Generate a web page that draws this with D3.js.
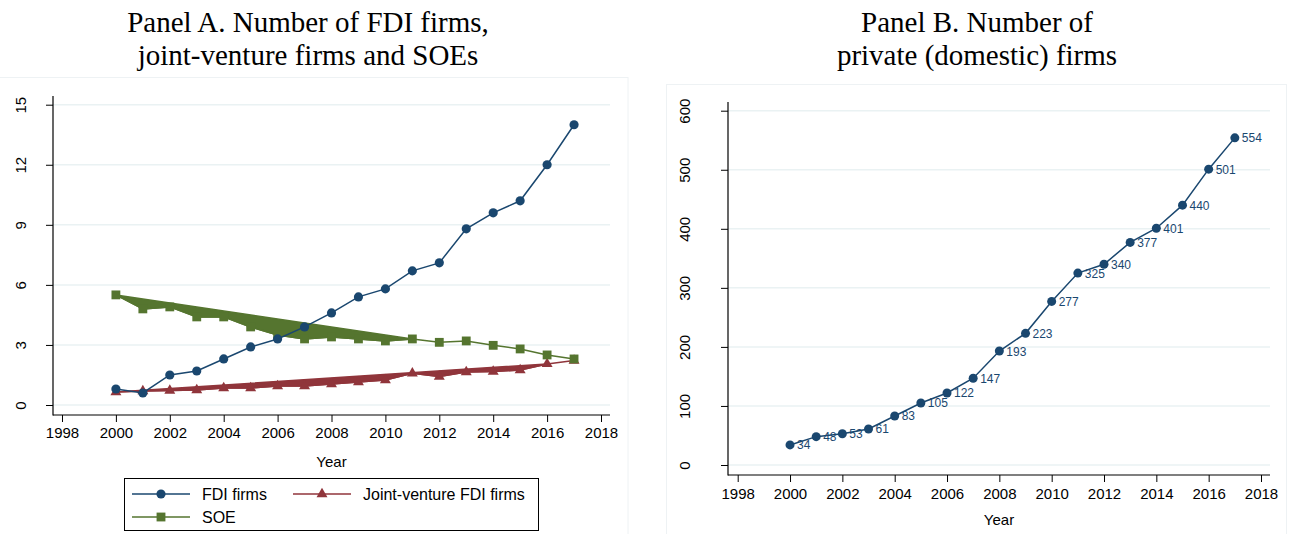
<!DOCTYPE html>
<html>
<head>
<meta charset="utf-8">
<script src="https://cdn.jsdelivr.net/npm/d3@7"></script>
<style>
  body { margin: 0; background: #fff; }
  svg { display: block; }
</style>
</head>
<body>
<svg id="chart" width="1293" height="534"></svg>
<script>
const years = [2000, 2001, 2002, 2003, 2004, 2005, 2006, 2007, 2008, 2009, 2010, 2011, 2012, 2013, 2014, 2015, 2016, 2017];
const fdiFirms = [0.8, 0.6, 1.5, 1.7, 2.3, 2.9, 3.3, 3.9, 4.6, 5.4, 5.8, 6.7, 7.1, 8.8, 9.6, 10.2, 12.0, 14.0];
const jvFirms = [0.65, 0.7, 0.72, 0.75, 0.85, 0.85, 0.95, 0.95, 1.05, 1.15, 1.25, 1.58, 1.42, 1.65, 1.67, 1.75, 2.05, 2.22];
const soeFirms = [5.5, 4.8, 4.9, 4.4, 4.4, 3.9, 3.5, 3.3, 3.4, 3.3, 3.2, 3.3, 3.13, 3.2, 2.98, 2.8, 2.5, 2.3];
const privateFirms = [34, 48, 53, 61, 83, 105, 122, 147, 193, 223, 277, 325, 340, 377, 401, 440, 501, 554];

// the filled wedges in panel A run from the first year up to these years
const soeFillEnd = 2011;
const jvFillEnd = 2016;

const xTicks = [1998, 2000, 2002, 2004, 2006, 2008, 2010, 2012, 2014, 2016, 2018];
const yTicksA = [0, 3, 6, 9, 12, 15];
const yTicksB = [0, 100, 200, 300, 400, 500, 600];

const navy = "#1a476f", maroon = "#90353b", green = "#55752f";
const gridColor = "#eaf2f3";
const sans = '"Liberation Sans", Arial, sans-serif';

const svg = d3.select("#chart");

// outer region borders
svg.append("rect").attr("x", -1).attr("y", 77.5).attr("width", 629).attr("height", 470)
   .attr("fill", "none").attr("stroke", "#eef2f4");
svg.append("rect").attr("x", 666.5).attr("y", 84.5).attr("width", 620).attr("height", 460)
   .attr("fill", "none").attr("stroke", "#eef2f4");

// titles
function title(x, lines) {
  lines.forEach((t, i) => {
    svg.append("text").attr("x", x).attr("y", 32 + i * 33)
       .attr("text-anchor", "middle")
       .style("font-family", '"Liberation Serif", "Times New Roman", serif')
       .style("font-size", "29px")
       .text(t);
  });
}
title(308, ["Panel A. Number of FDI firms,", "joint-venture firms and SOEs"]);
title(977, ["Panel B. Number of", "private (domestic) firms"]);

function drawFrame(p) {
  const g = svg.append("g");
  // gridlines
  g.selectAll(".grid").data(p.yTicks).enter().append("line")
   .attr("x1", p.axisX).attr("x2", p.right)
   .attr("y1", d => p.y(d)).attr("y2", d => p.y(d))
   .attr("stroke", gridColor).attr("stroke-width", 1.5);

  const xa = g.append("g").attr("transform", `translate(0,${p.axisY})`)
    .call(d3.axisBottom(p.x).tickValues(p.xTicks).tickFormat(d3.format("d")).tickSize(7).tickSizeOuter(0));
  xa.select(".domain").remove();
  xa.selectAll(".tick line").attr("stroke", "#000");
  xa.selectAll(".tick text").attr("y", p.xLabelY).attr("dy", null)
    .style("font-family", sans).style("font-size", "15px").attr("fill", "#000");

  const ya = g.append("g").attr("transform", `translate(${p.axisX},0)`)
    .call(d3.axisLeft(p.y).tickValues(p.yTicks).tickSize(7).tickSizeOuter(0));
  ya.select(".domain").remove();
  ya.selectAll(".tick line").attr("stroke", "#000");
  ya.selectAll(".tick text")
    .attr("x", null).attr("dy", null).attr("text-anchor", "middle")
    .attr("transform", `translate(${p.yLabelX},0) rotate(-90)`)
    .style("font-family", sans).style("font-size", "15px").attr("fill", "#000");

  // axis lines
  g.append("line").attr("x1", p.axisX).attr("x2", p.axisX)
   .attr("y1", p.top).attr("y2", p.axisY + 0.5).attr("stroke", "#000").attr("stroke-width", 1.2);
  g.append("line").attr("x1", p.axisX).attr("x2", p.right)
   .attr("y1", p.axisY).attr("y2", p.axisY).attr("stroke", "#000").attr("stroke-width", 1.2);

  g.append("text").attr("x", (p.axisX + p.right) / 2).attr("y", p.yearY)
   .attr("text-anchor", "middle")
   .style("font-family", sans).style("font-size", "15px")
   .text("Year");
}

// ---------- Panel A ----------
const xA = d3.scaleLinear().domain([1998, 2018]).range([62, 601]);
const yA = d3.scaleLinear().domain([0, 15]).range([405, 104.7]);
drawFrame({ x: xA, y: yA, xTicks, yTicks: yTicksA, axisX: 53, axisY: 415, right: 610, top: 96,
            xLabelY: 23, yLabelX: -27, yearY: 467 });

const gA = svg.append("g");
const lineA = d => d3.line().x((v, i) => xA(years[i])).y(v => yA(v))(d);

function wedge(vals, endYear, color) {
  const n = years.indexOf(endYear) + 1;
  const pts = vals.slice(0, n).map((v, i) => [xA(years[i]), yA(v)]);
  gA.append("path").attr("d", d3.line()(pts) + "Z")
    .attr("fill", color).attr("stroke", color).attr("stroke-width", 1.5).attr("stroke-linejoin", "round");
}
function series(vals, color, marker) {
  gA.append("path").attr("d", lineA(vals)).attr("fill", "none")
    .attr("stroke", color).attr("stroke-width", 1.5);
  gA.selectAll(null).data(vals).enter().append("path")
    .attr("transform", (v, i) => `translate(${xA(years[i])},${yA(v)})`)
    .attr("d", d3.symbol().type(marker.type).size(marker.size))
    .attr("fill", color);
}
const circleM = { type: d3.symbolCircle, size: 66 };
const triM = { type: d3.symbolTriangle, size: 52 };
const squareM = { type: d3.symbolSquare, size: 78 };

wedge(jvFirms, jvFillEnd, maroon);
series(jvFirms, maroon, triM);
wedge(soeFirms, soeFillEnd, green);
series(soeFirms, green, squareM);
series(fdiFirms, navy, circleM);

// legend
const lg = svg.append("g");
lg.append("rect").attr("x", 124.5).attr("y", 478.5).attr("width", 414).attr("height", 52)
  .attr("fill", "#fff").attr("stroke", "#000");
const legendItems = [
  { label: "FDI firms", color: navy, m: circleM, x: 132, y: 494 },
  { label: "Joint-venture FDI firms", color: maroon, m: triM, x: 293, y: 494 },
  { label: "SOE", color: green, m: squareM, x: 132, y: 517 }
];
legendItems.forEach(it => {
  lg.append("line").attr("x1", it.x).attr("x2", it.x + 58).attr("y1", it.y).attr("y2", it.y)
    .attr("stroke", it.color).attr("stroke-width", 1.5);
  lg.append("path").attr("transform", `translate(${it.x + 29},${it.y})`)
    .attr("d", d3.symbol().type(it.m.type).size(it.m.size)).attr("fill", it.color);
  lg.append("text").attr("x", it.x + 70).attr("y", it.y + 6)
    .style("font-family", sans).style("font-size", "16px")
    .text(it.label);
});

// ---------- Panel B ----------
const xB = d3.scaleLinear().domain([1998, 2018]).range([737.7, 1261]);
const yB = d3.scaleLinear().domain([0, 600]).range([465, 110.7]);
drawFrame({ x: xB, y: yB, xTicks, yTicks: yTicksB, axisX: 728, axisY: 475, right: 1270, top: 102,
            xLabelY: 24, yLabelX: -38, yearY: 525 });

const gB = svg.append("g");
gB.append("path")
  .attr("d", d3.line().x((v, i) => xB(years[i])).y(v => yB(v))(privateFirms))
  .attr("fill", "none").attr("stroke", navy).attr("stroke-width", 1.5);
gB.selectAll(null).data(privateFirms).enter().append("circle")
  .attr("cx", (v, i) => xB(years[i])).attr("cy", v => yB(v)).attr("r", 4.5).attr("fill", navy);
gB.selectAll(null).data(privateFirms).enter().append("text")
  .attr("x", (v, i) => xB(years[i]) + 7).attr("y", v => yB(v) + 4.5)
  .style("font-family", sans).style("font-size", "12px")
  .attr("fill", navy)
  .text(d => d);
</script>
</body>
</html>
